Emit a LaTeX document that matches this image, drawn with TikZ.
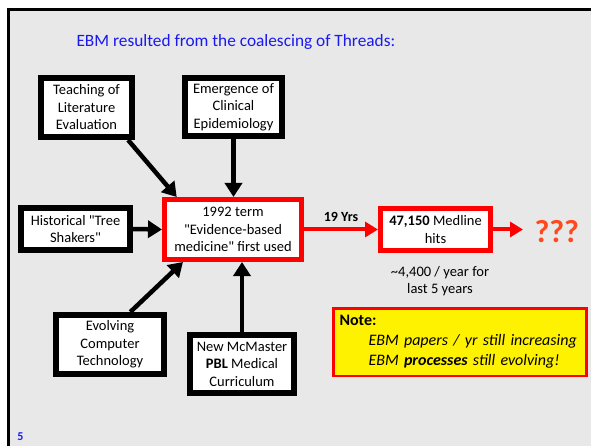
\documentclass[tikz,border=0pt]{standalone}
\usepackage{fontspec}
\setmainfont{Carlito}[Ligatures=TeXOff]
\usetikzlibrary{arrows.meta,calc}
\definecolor{slidegray}{RGB}{232,232,232}
\definecolor{titleblue}{RGB}{25,25,240}
\definecolor{qorange}{RGB}{255,72,30}
\tikzset{
	thread/.style={draw=black, line width=6pt, fill=white, inner sep=0pt, align=center, font=\fontsize{14.5}{17.5}\selectfont},
	hub/.style={draw=red, line width=5pt, fill=white, inner sep=0pt, align=center, font=\fontsize{14.5}{17.5}\selectfont},
	feed/.style={line width=4.5pt, -{Triangle[length=14pt,width=17pt]}},
	redarrow/.style={color=red, line width=4pt, -{Triangle[length=13pt,width=15pt]}}
}

\begin{document}
\begin{tikzpicture}[x=1pt, y=-1pt]
			%%%%% START %%%%%
			
			\useasboundingbox (0, 0) rectangle (591, 446);
			\fill[white] (0, 0) rectangle (591, 446);
			\fill[slidegray] (8, 10) rectangle (591, 446);
			\draw[line width=3pt] (8.5, 446) -- (8.5, 10) -- (591, 10);
			
			\node[anchor=west, text=titleblue, font=\fontsize{17.3}{20}\selectfont] (title) at (73, 42) {EBM resulted from the coalescing of Threads:};
			
			\node[thread, minimum width=91, minimum height=59] (teach) at (86.5, 107.5) {Teaching of\\Literature\\Evaluation};
			\node[thread, minimum width=97, minimum height=58] (emerg) at (233.5, 107) {Emergence of\\Clinical\\Epidemiology};
			\node[thread, minimum width=109, minimum height=42] (hist) at (75.5, 229) {Historical "Tree\\Shakers"};
			\node[thread, minimum width=108, minimum height=59] (evolv) at (110, 344.5) {Evolving\\Computer\\Technology};
			\node[thread, minimum width=104, minimum height=58] (mcm) at (242, 364) {New McMaster\\\textbf{PBL} Medical\\Curriculum};
			
			\node[hub, minimum width=137, minimum height=60] (term) at (233, 229.5) {1992 term\\"Evidence-based\\medicine" first used};
			\node[hub, minimum width=110, minimum height=42] (medline) at (435.5, 229.5) {\textbf{47,150} Medline\\hits};
			
			\draw[feed] (teach.-38) -- (term.150);
			\draw[feed] (emerg.south) -- (emerg.south |- term.north);
			\draw[feed] (hist.east) -- (term.west);
			\draw[feed] (evolv.58) -- (term.213);
			\draw[feed] (mcm.north) -- (mcm.north |- term.south);
			
			\draw[redarrow] (term.east) -- node[above=3pt, text=black, font=\bfseries\fontsize{14}{16}\selectfont] (yrs) {19 Yrs} (medline.west);
			\coordinate (qtip) at (523, 229.5);
			\draw[redarrow] (medline.east) -- (qtip);
			\node[anchor=west, text=qorange, font=\bfseries\fontsize{32}{36}\selectfont] (qq) at (531, 232) {???};
			
			\node[align=center, font=\fontsize{14.5}{17.5}\selectfont] (rate) at (440, 281) {\textasciitilde 4,400 / year for\\last 5 years};
			
			\node[draw=red, line width=2.5pt, fill=yellow, text width=241pt, inner xsep=6pt, minimum height=67.5, align=left, font=\fontsize{16}{20}\selectfont] (note) at (460, 342) {\textbf{Note:}\\\hspace*{29pt}\textit{EBM papers / yr still increasing}\\\hspace*{29pt}\textit{EBM \textbf{processes} still evolving!}};
			
			\node[text=titleblue, font=\bfseries\fontsize{12}{14}\selectfont] (slideno) at (20.5, 437) {5};
			
			%%%%% END %%%%%
		\end{tikzpicture}
\end{document}
